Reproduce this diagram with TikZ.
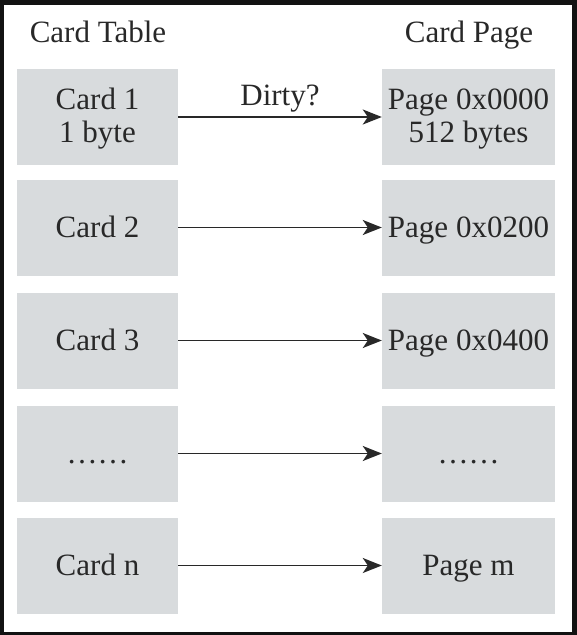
\documentclass[tikz,border=0pt]{standalone}
\usepackage{fontspec}
\setmainfont{Liberation Serif}
\definecolor{cardgray}{RGB}{216,219,221}
\definecolor{inkgray}{RGB}{40,40,40}
\definecolor{framedark}{RGB}{18,18,18}
\usetikzlibrary{arrows.meta,positioning,calc}
\tikzset{
  oneline/.style={text height=26pt,text depth=6pt},
  textrow1/.style={yshift=-2pt},
  textrow2/.style={oneline}, textrow3/.style={oneline},
  textrow4/.style={oneline}, textrow5/.style={oneline}
}

\begin{document}
\begin{tikzpicture}[x=1pt,y=-1pt,
    cardbox/.style={fill=cardgray,minimum width=161pt,minimum height=96pt,
      inner sep=0pt,align=center,text=inkgray,font=\fontsize{31}{33}\selectfont},
    pagebox/.style={cardbox,minimum width=173pt},
    headtext/.style={text=inkgray,font=\fontsize{31}{33}\selectfont,anchor=base,inner sep=0pt},
    linkarrow/.style={-{Stealth[length=19pt,width=15pt,inset=5pt]},line width=1.7pt,draw=inkgray}]
        % frame
        \fill[framedark] (0,0) rectangle (577,635);
        \fill[white] (4,5) rectangle (572,632);
        % column titles
        \node[headtext] (tablehead) at (98,42) {Card Table};
        \node[headtext] (pagehead) at (469,42) {Card Page};
        % rows
        \foreach \i/\y/\ctext/\ptext in {1/117/{Card 1\\1 byte}/{Page 0x0000\\512 bytes},
            2/227.5/Card 2/Page 0x0200, 3/340.5/Card 3/Page 0x0400,
            4/453.5/……/……, 5/565.5/Card n/Page m} {
          \node[cardbox] (card\i) at (97.5,\y) {};
          \node[pagebox] (page\i) at (468.5,\y) {};
          \node[cardbox,fill=none,textrow\i] (ctext\i) at (card\i) {\ctext};
          \node[pagebox,fill=none,textrow\i] (ptext\i) at (page\i) {\ptext};
          \draw[linkarrow] (card\i) -- (page\i);
        }
        \node[headtext] (dirty) at ($(card1.east)!0.5!(page1.west)+(0,-12)$) {Dirty?};
      \end{tikzpicture}
\end{document}
